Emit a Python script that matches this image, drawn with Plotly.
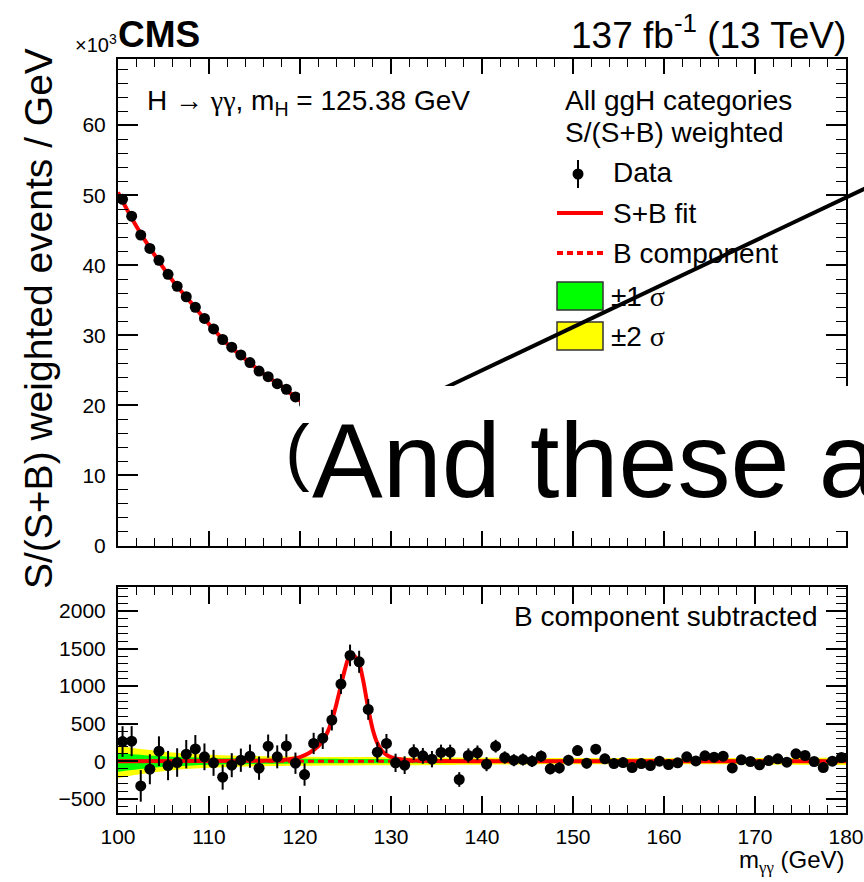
import plotly.graph_objects as go

# ---------------- data ----------------
# upper panel: S/(S+B) weighted events / GeV  (in units of 10^3), visible bins only
mass_top = [100.5, 101.5, 102.5, 103.5, 104.5, 105.5, 106.5, 107.5, 108.5, 109.5,
            110.5, 111.5, 112.5, 113.5, 114.5, 115.5, 116.5, 117.5, 118.5, 119.5, 120.5]
events_top = [49.4, 47.0, 44.3, 42.4, 40.7, 38.7, 37.0, 35.5, 34.0, 32.4,
              30.9, 29.4, 28.3, 27.2, 26.1, 24.9, 24.1, 23.1, 22.3, 21.2, 20.2]
fit_top_x = [100, 102, 104, 106, 108, 110, 112, 114, 116, 118, 120, 122]
fit_top_y = [50.4, 45.6, 41.5, 37.8, 34.7, 31.6, 28.8, 26.6, 24.5, 22.7, 20.7, 19.5]

# lower panel: B component subtracted
bin_lo, bin_hi = 100, 180
mass_low = [bin_lo + 0.5 + i for i in range(bin_hi - bin_lo)]
resid = [262, 267, -329, -107, 133, -58, -18, 93, 164, 58,
         -22, -213, -53, 13, 67, -93, 200, 58, 204, -27,
         -178, 236, 307, 547, 1027, 1409, 1324, 689, 120, 236,
         -22, -53, 120, 71, 27, 116, 120, -244, 76, 111,
         -40, 200, 49, 13, 22, 0, 67, -102, -89, 13,
         142, -27, 160, 31, -31, -18, -84, -31, -58, 0,
         -44, -22, 58, 4, 71, 53, 67, -89, 18, -4,
         -49, 9, 31, -13, 98, 76, -4, -84, 0, 49]
resid_err = [204, 200, 210, 200, 198, 195, 190, 189, 184, 178,
             173, 167, 160, 155, 155, 155, 155, 153, 155, 142,
             149, 142, 144, 138, 133, 144, 147, 138, 133, 127,
             122, 118, 105, 105, 109, 105, 100, 98, 95, 98,
             93, 85, 82, 80, 80, 78, 76, 75, 74, 72,
             70, 70, 68, 67, 66, 65, 64, 63, 62, 61,
             60, 60, 59, 58, 57, 56, 56, 55, 54, 54,
             53, 52, 52, 51, 50, 50, 49, 49, 48, 48]

sig_x = [100, 115, 118, 119, 120, 121, 122, 122.5, 123, 123.5, 124, 124.5, 125, 125.4,
         125.8, 126.2, 126.6, 127, 127.5, 128, 128.5, 129, 129.5, 130, 131, 132, 134, 140, 180]
sig_y = [0, 5, 15, 30, 55, 110, 200, 270, 380, 540, 760, 1010, 1250, 1390,
         1410, 1370, 1260, 1040, 700, 420, 240, 140, 85, 55, 25, 12, 4, 0, 0]

band_x = [100, 101, 102, 103, 104, 106, 108, 110, 113, 116, 120, 125, 130, 135, 140, 150, 160, 170, 180]
band2_hi = [204, 188, 170, 155, 140, 116, 100, 87, 74, 66, 60, 56, 54, 50, 47, 42, 40, 42, 50]
band2_lo = [-227, -205, -182, -163, -146, -120, -102, -88, -75, -67, -60, -56, -54, -50, -47, -42, -40, -42, -50]
band1_hi = [107, 98, 88, 79, 71, 59, 51, 44, 38, 34, 31, 29, 28, 26, 24, 21, 20, 21, 25]
band1_lo = [-142, -125, -110, -96, -85, -68, -56, -47, -40, -35, -31, -29, -28, -26, -24, -21, -20, -21, -25]

FONT = "Liberation Sans, Arial, Helvetica, sans-serif"

# ---------------- figure ----------------
W, H = 864, 882
L, R, T, B = 118, 846, 59, 813


def px(x):
    return (x - L) / (R - L)


def py(y):
    return (B - y) / (B - T)


fig = go.Figure()

# lower panel bands
fig.add_trace(go.Scatter(x=band_x, y=band2_hi, mode="lines", line=dict(width=0, shape="spline"),
                         xaxis="x2", yaxis="y2", showlegend=False, hoverinfo="skip"))
fig.add_trace(go.Scatter(x=band_x, y=band2_lo, mode="lines", line=dict(width=0, shape="spline"),
                         fill="tonexty", fillcolor="#ffff00",
                         xaxis="x2", yaxis="y2", showlegend=False, hoverinfo="skip"))
fig.add_trace(go.Scatter(x=band_x, y=band1_hi, mode="lines", line=dict(width=0, shape="spline"),
                         xaxis="x2", yaxis="y2", showlegend=False, hoverinfo="skip"))
fig.add_trace(go.Scatter(x=band_x, y=band1_lo, mode="lines", line=dict(width=0, shape="spline"),
                         fill="tonexty", fillcolor="#00ff00",
                         xaxis="x2", yaxis="y2", showlegend=False, hoverinfo="skip"))
# B component (zero) dashed
fig.add_trace(go.Scatter(x=[bin_lo, bin_hi], y=[0, 0], mode="lines",
                         line=dict(color="#ff0000", width=3, dash="6px,4px"),
                         xaxis="x2", yaxis="y2", showlegend=False, hoverinfo="skip"))
# S+B - B curve
fig.add_trace(go.Scatter(x=sig_x, y=sig_y, mode="lines",
                         line=dict(color="#ff0000", width=4, shape="spline", smoothing=0.8),
                         xaxis="x2", yaxis="y2", showlegend=False, hoverinfo="skip"))
# data lower
fig.add_trace(go.Scatter(x=mass_low, y=resid, mode="markers",
                         marker=dict(color="black", size=11),
                         error_y=dict(type="data", array=resid_err, color="black", thickness=2, width=0),
                         xaxis="x2", yaxis="y2", showlegend=False))

# upper panel
fig.add_trace(go.Scatter(x=fit_top_x, y=fit_top_y, mode="lines",
                         line=dict(color="#ff0000", width=4, shape="spline"),
                         xaxis="x", yaxis="y", showlegend=False, hoverinfo="skip"))
fig.add_trace(go.Scatter(x=mass_top, y=events_top, mode="markers",
                         marker=dict(color="black", size=11),
                         xaxis="x", yaxis="y", showlegend=False))

axis_common = dict(showline=True, linecolor="black", linewidth=2, mirror="allticks",
                   ticks="inside", tickcolor="black", tickwidth=1.5,
                   showgrid=False, zeroline=False, automargin=False,
                   tickfont=dict(family=FONT, size=21, color="black"))

fig.update_layout(
    width=W, height=H,
    margin=dict(l=L, r=W - R, t=T, b=H - B, autoexpand=False),
    paper_bgcolor="white", plot_bgcolor="white",
    font=dict(family=FONT, color="black"),
    showlegend=False,
    xaxis=dict(domain=[0, 1], range=[bin_lo, bin_hi], anchor="y", showticklabels=False,
               dtick=10, tick0=100, ticklen=15,
               minor=dict(ticks="inside", dtick=2, ticklen=8, tickcolor="black", tickwidth=1, showgrid=False),
               **axis_common),
    yaxis=dict(domain=[py(545.5), 1], range=[0, 69.43], anchor="x",
               dtick=10, tick0=0, ticklen=20, ticklabelstandoff=6,
               minor=dict(ticks="inside", dtick=2, ticklen=10, tickcolor="black", tickwidth=1, showgrid=False),
               **axis_common),
    xaxis2=dict(domain=[0, 1], range=[bin_lo, bin_hi], anchor="y2", showticklabels=True,
                dtick=10, tick0=100, ticklen=17, ticklabelstandoff=4,
                minor=dict(ticks="inside", dtick=2, ticklen=8, tickcolor="black", tickwidth=1, showgrid=False),
                **axis_common),
    yaxis2=dict(domain=[0, py(587)], range=[-690, 2320], anchor="x2",
                dtick=500, tick0=0, ticklen=20, ticklabelstandoff=6,
                minor=dict(ticks="inside", dtick=100, ticklen=10, tickcolor="black", tickwidth=1, showgrid=False),
                **axis_common),
)

ann = []


def text(s, x, y, size, xanchor="left", yanchor="middle", family=FONT, angle=0):
    ann.append(dict(text=s, x=px(x), y=py(y), xref="paper", yref="paper",
                    xanchor=xanchor, yanchor=yanchor, showarrow=False, textangle=angle,
                    font=dict(family=family, size=size, color="black")))


SER = "<span style='font-family:Liberation Serif'>%s</span>"

text("<b>CMS</b>", 116, 34, 37)
text("137 fb<sup>-1</sup> (13 TeV)", 848, 32, 37, xanchor="right")
text("×10<sup>3</sup>", 119, 43, 20, xanchor="right")
text("S/(S+B) weighted events / GeV", 38, 319, 39, xanchor="center", angle=-90)
text("H → " + SER % "γγ" + ", m<sub>H</sub> = 125.38 GeV", 145, 103, 28)
text("All ggH categories", 563, 100, 28)
text("S/(S+B) weighted", 563, 132, 28)
text("Data", 611, 173, 28)
text("S+B fit", 611, 213, 28)
text("B component", 611, 253, 28)
text("±1 " + SER % "σ", 609, 296, 28)
text("±2 " + SER % "σ", 609, 336, 28)
text("B component subtracted", 820, 616, 28, xanchor="right")
text("m<sub>" + SER % "γγ" + "</sub> (GeV)", 847, 861, 24, xanchor="right")
# slide overlay text
text("(", 283, 452, 74)
text("And these are", 310, 460, 106)

shapes = []
# legend symbols
shapes.append(dict(type="line", xref="paper", yref="paper", x0=px(578), x1=px(578), y0=py(160), y1=py(188),
                   line=dict(color="black", width=2)))
shapes.append(dict(type="circle", xref="paper", yref="paper", x0=px(572.5), x1=px(583.5), y0=py(168.5), y1=py(179.5),
                   fillcolor="black", line=dict(color="black", width=0)))
shapes.append(dict(type="line", xref="paper", yref="paper", x0=px(557), x1=px(603), y0=py(213), y1=py(213),
                   line=dict(color="#ff0000", width=4)))
shapes.append(dict(type="line", xref="paper", yref="paper", x0=px(557), x1=px(603), y0=py(253), y1=py(253),
                   line=dict(color="#ff0000", width=4, dash="6px,4px")))
shapes.append(dict(type="rect", xref="paper", yref="paper", x0=px(557), x1=px(603), y0=py(310), y1=py(282),
                   fillcolor="#00ff00", line=dict(color="#333333", width=1.5)))
shapes.append(dict(type="rect", xref="paper", yref="paper", x0=px(557), x1=px(603), y0=py(350), y1=py(322),
                   fillcolor="#ffff00", line=dict(color="#333333", width=1.5)))
# slide overlay: arrow line and white box
shapes.append(dict(type="line", xref="paper", yref="paper", x0=px(440), x1=px(880), y0=py(390.2), y1=py(181.4),
                   line=dict(color="black", width=4), layer="above"))
shapes.append(dict(type="rect", xref="paper", yref="paper", x0=px(300), x1=px(880), y0=py(531), y1=py(386),
                   fillcolor="white", line=dict(width=0), layer="above"))

fig.update_layout(annotations=ann, shapes=shapes)
fig.write_html("out.html")
